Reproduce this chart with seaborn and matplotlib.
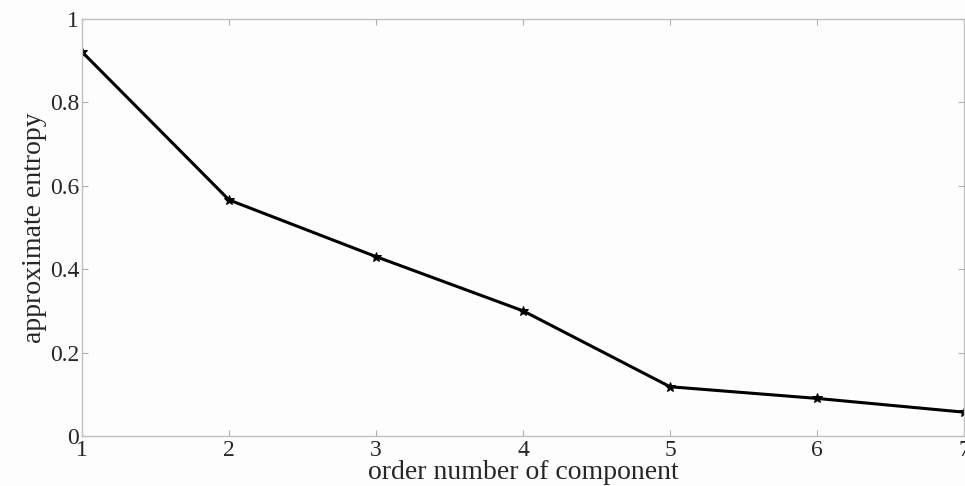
import pandas as pd
import matplotlib
matplotlib.use('Agg')
import matplotlib.pyplot as plt
import seaborn as sns

components = [1, 2, 3, 4, 5, 6, 7]
entropy = [0.921, 0.566, 0.430, 0.300, 0.118, 0.090, 0.057]
x_ticks = [1, 2, 3, 4, 5, 6, 7]
y_ticks = [0, 0.2, 0.4, 0.6, 0.8, 1]
y_tick_labels = ['0', '0.2', '0.4', '0.6', '0.8', '1']

df = pd.DataFrame({'component': components, 'entropy': entropy})

sns.set_style('white')
plt.rcParams['font.family'] = ['Liberation Serif', 'DejaVu Serif']

fig = plt.figure(figsize=(9.65, 4.86), dpi=100)
fig.patch.set_facecolor('#fdfdfd')
ax = fig.add_axes([0.085, 0.103, 0.914, 0.858])
ax.set_facecolor('#fdfdfd')

sns.lineplot(x='component', y='entropy', data=df, ax=ax, color='black',
             linewidth=2.2, marker='*', markersize=7, markeredgecolor='black')

ax.set_xlim(1, 7)
ax.set_ylim(0, 1)
ax.set_xticks(x_ticks)
ax.set_yticks(y_ticks)
ax.set_yticklabels(y_tick_labels)
ax.tick_params(direction='in', length=4, color='#b0b0b0', labelsize=17,
               top=True, right=True, bottom=True, left=True)
ax.tick_params(axis='x', pad=3)
ax.tick_params(axis='y', pad=2)
for s in ax.spines.values():
    s.set_color('#c0c0c0')
    s.set_linewidth(1.0)

ax.set_xlabel('order number of component', fontsize=20, labelpad=-1)
ax.set_ylabel('approximate entropy', fontsize=20, labelpad=2)

fig.savefig('out.png', dpi=100, facecolor=fig.get_facecolor())
